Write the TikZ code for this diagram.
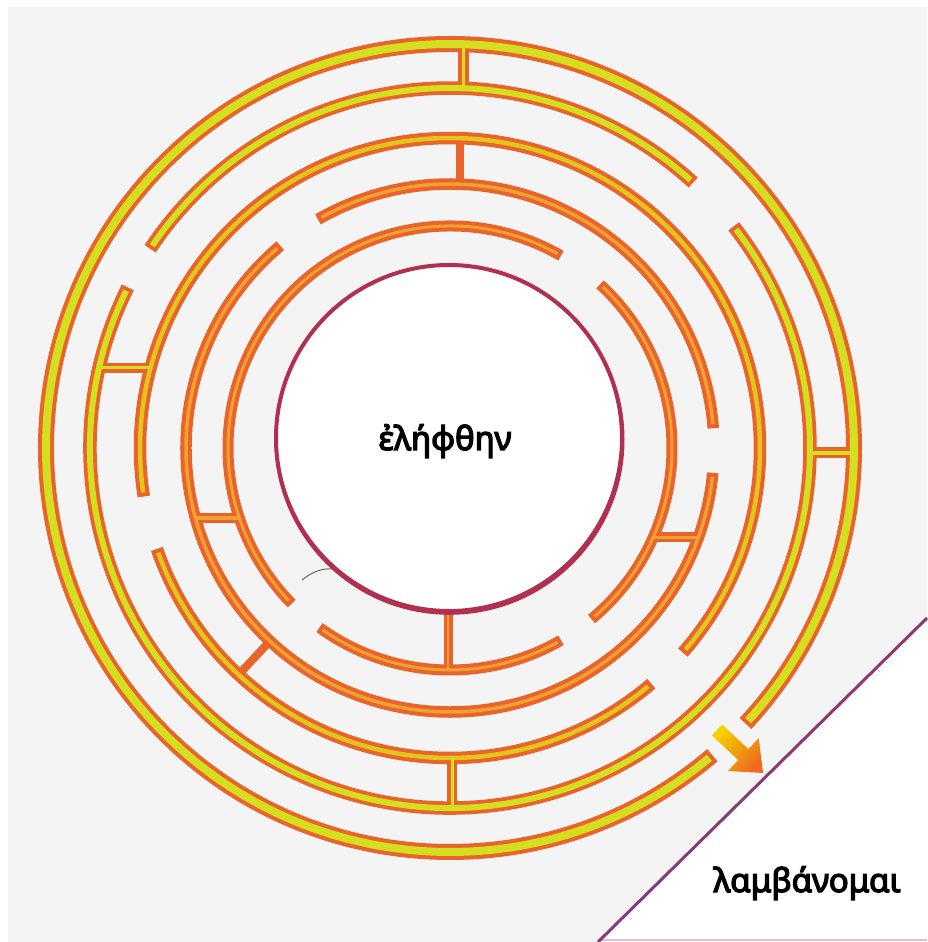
\documentclass[tikz,border=0pt]{standalone}
\usepackage{fontspec}
\setmainfont{Noto Sans}
\newfontfamily\grkfont{Noto Sans}[FakeBold=4]
\definecolor{mzor}{HTML}{E8642A}
\definecolor{mzyel}{HTML}{D6DE22}
\definecolor{mzyeltwo}{HTML}{E4C41E}
\definecolor{mzlor}{HTML}{F2A034}
\definecolor{bgray}{HTML}{F4F4F4}
\definecolor{cring}{HTML}{B1304F}
\definecolor{tripurple}{HTML}{8A3A72}
\definecolor{trililac}{HTML}{DCC0D6}
\definecolor{arrowyel}{HTML}{F6D200}
\definecolor{arroworange}{HTML}{EE6A1E}
\tikzset{greektext/.style={anchor=base, font=\grkfont\fontsize{33}{36}\selectfont}}
\newif\ifmzinner
% #1 radius, #2 start angle, #3 end angle, #4 total width, #5 inner width, #6 inner colour
\newcommand\mzarc[6]{%
  \ifmzinner
    \pgfmathsetmacro\mzd{((#4)-(#5))/2/(#1)*57.2958}%
    \draw[line width=#5pt, #6] ({#2+\mzd}:#1) arc[start angle={#2+\mzd}, end angle={#3-\mzd}, radius=#1];%
  \else
    \draw[line width=#4pt, mzor] (#2:#1) arc[start angle=#2, end angle=#3, radius=#1];%
  \fi}
% #1 first end, #2 second end, #3 total width, #4 inner width (0 = solid), #5 inner colour
\newcommand\mzbar[5]{%
  \ifmzinner
    \ifdim #4pt>0pt \draw[line width=#4pt, #5] #1 -- #2;\fi
  \else
    \draw[line width=#3pt, mzor] #1 -- #2;%
  \fi}
\newcommand\mzall{%
  % ring 1
  \mzarc{404}{-43}{310.5}{16}{8}{mzyel}
  % ring 2
  \mzarc{360}{47.5}{146.4}{13.5}{6}{mzyel}
  \mzarc{360}{153.5}{398}{13.5}{6}{mzyel}
  % ring 3
  \mzarc{310}{199}{310.5}{12.5}{4.5}{mzyeltwo}
  \mzarc{310}{318.7}{549}{12.5}{4.5}{mzyeltwo}
  % ring 4
  \mzarc{264}{4.3}{120}{11.5}{3.5}{mzlor}
  \mzarc{264}{130}{354.6}{11.5}{3.5}{mzlor}
  % ring 5
  \mzarc{222}{60}{224.5}{11}{3}{mzlor}
  \mzarc{222}{234}{300}{11}{3}{mzlor}
  \mzarc{222}{309.6}{407.5}{11}{3}{mzlor}
  % connectors
  \mzbar{(13,359.8)}{(13,403.8)}{11}{3}{mzyel}
  \mzbar{(360,-5)}{(404,-5)}{11}{4}{mzyel}
  \mzbar{(-351,80)}{(-299.5,80)}{10}{3}{mzyel}
  \mzbar{(2,-309.9)}{(2,-359.9)}{10}{3}{mzyel}
  \mzbar{(10,263.8)}{(10,309.8)}{8}{0}{mzor}
  \mzbar{(-133:264)}{(-133:310)}{8}{0}{mzor}
  \mzbar{(-254.5,-70)}{(-210.7,-70)}{10}{3}{mzlor}
  \mzbar{(248.5,-89)}{(203.4,-89)}{10}{3}{mzlor}
  \mzbar{(-2,-150)}{(-2,-222)}{9}{2.5}{mzlor}
}
\begin{document}
\begin{tikzpicture}[x=1pt,y=1pt]
  \useasboundingbox (-450,-494) rectangle (477,448);
  \fill[white] (-450,-494) rectangle (477,448);
  \fill[bgray] (-442,-494) rectangle (477,441);
  % maze
  \mzinnerfalse\mzall
  \mzinnertrue\mzall
  % small grey stroke
  \draw[gray!80!black, line width=1pt] (-148,-132) .. controls (-138,-124) and (-128,-120) .. (-118,-121);
  % centre disc
  \fill[cring] (-0.5,8.2) circle[radius=175];
  \node[circle, draw=cring, fill=white, line width=4pt, minimum size=346pt, inner sep=0pt] (centre) at (-1,10) {};
  \node[greektext] (word) at (-5,-2) {ἐλήφθην};
  % exit arrow
  \shade[top color=arrowyel, bottom color=arroworange, shading angle=45]
    [shift={(267,-282)}, rotate=-43]
    (0,7.5) -- (36,7.5) -- (36,22.5) -- (63,0) -- (36,-22.5) -- (36,-7.5) -- (0,-7.5) -- cycle;
  % white corner triangle
  \coordinate (ta) at (148,-494);
  \coordinate (tb) at (477,-170);
  \coordinate (tc) at (477,-494);
  \fill[white] (ta) -- (tb) -- (tc) -- cycle;
  \draw[trililac, line width=1.5pt] (148,-492) -- (477,-492);
  \draw[tripurple, line width=3pt] (ta) -- (tb);
  \node[greektext] (answer) at (357,-444) {λαμβάνομαι};
\end{tikzpicture}
\end{document}
